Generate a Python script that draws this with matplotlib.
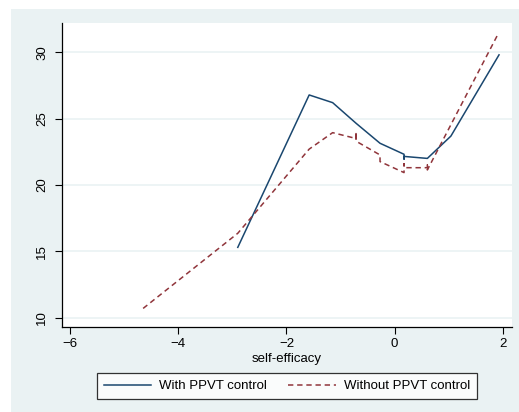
import numpy as np
import matplotlib.pyplot as plt
from matplotlib.patches import Rectangle

plt.rcParams['font.family'] = ['Liberation Sans', 'DejaVu Sans']

# with PPVT control (solid)
x_with = [-2.9, -1.58, -1.146, -0.714, -0.27, 0.174, 0.174, 0.174, 0.605, 1.04, 1.93]
y_with = [15.3, 26.78, 26.2, 24.65, 23.14, 22.31, 21.95, 22.15, 22.0, 23.68, 29.8]

# without PPVT control (dashed)
x_without = [-4.65, -2.9, -1.58, -1.146, -0.714, -0.714, -0.714, -0.27, -0.27,
             0.174, 0.174, 0.174, 0.605, 0.605, 0.605, 1.92]
y_without = [10.7, 16.36, 22.7, 23.94, 23.5, 24.0, 23.3, 22.26, 21.76,
             20.93, 21.6, 21.3, 21.3, 21.5, 21.13, 31.43]

xticks = [-6, -4, -2, 0, 2]
yticks = [10, 15, 20, 25, 30]

bg = '#eaf2f3'
navy = '#1a476f'
maroon = '#90353b'

fig = plt.figure(figsize=(5.19, 4.12), dpi=100)
fig.patches.append(Rectangle((11 / 519, 0), 508 / 519, 403 / 412,
                             transform=fig.transFigure, facecolor=bg,
                             edgecolor='none', zorder=-10))

ax = fig.add_axes([62 / 519, 1 - 327 / 412, 450 / 519, 304 / 412])
ax.set_facecolor('white')
ax.plot(x_with, y_with, color=navy, lw=1.1, label='With PPVT control')
ax.plot(x_without, y_without, color=maroon, lw=1.1, dashes=(3.5, 2.5),
        label='Without PPVT control')

ax.set_xlim(-6.15, 2.17)
ax.set_ylim(9.3, 32.2)
ax.set_xticks(xticks)
ax.set_yticks(yticks)
ax.set_yticklabels([str(v) for v in yticks], rotation=90, va='center')
ax.tick_params(direction='out', length=5, width=0.8, labelsize=9.5, colors='black')
ax.tick_params(axis='x', pad=3)
ax.tick_params(axis='y', pad=5)
ax.grid(axis='y', color=bg, lw=1.2)
ax.set_axisbelow(True)
for s in ['top', 'right']:
    ax.spines[s].set_visible(False)
for s in ['left', 'bottom']:
    ax.spines[s].set_linewidth(0.9)
ax.set_xlabel('self-efficacy', fontsize=9.5, labelpad=2)

leg = fig.legend(loc='center', bbox_to_anchor=(287 / 519, 1 - 386 / 412), ncol=2,
                 fontsize=9.5, frameon=True, fancybox=False, handlelength=3.6,
                 handletextpad=0.6, columnspacing=1.6, borderpad=0.5)
leg.get_frame().set_edgecolor('black')
leg.get_frame().set_linewidth(0.9)

fig.savefig('out.png', dpi=100)
